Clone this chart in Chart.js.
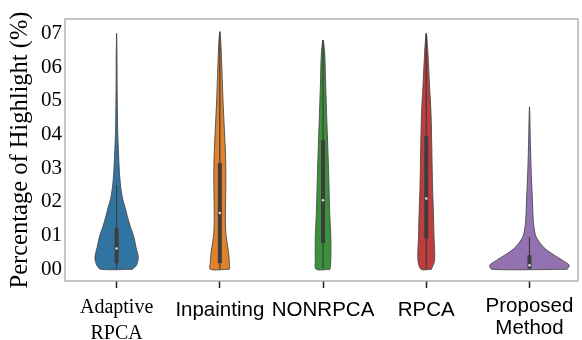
<!DOCTYPE html>
<html><head><meta charset="utf-8">
<script src="https://cdn.jsdelivr.net/npm/chart.js@4.4.1/dist/chart.umd.min.js"></script>
<style>html,body{margin:0;padding:0;background:#fff}canvas{display:block}</style>
</head><body><canvas id="c" width="582" height="340"></canvas>
<script>
// ---- data ----
const categories = [["Adaptive","RPCA"], "Inpainting", "NONRPCA", "RPCA", ["Proposed","Method"]];
const yTickValues = [0,1,2,3,4,5,6,7];
const yTickLabels = ["00","01","02","03","04","05","06","07"];
const colors = ["#3274a1","#e1812c","#3a923a","#c03d3e","#9372b2"];

// kernel density outlines: y levels and relative density (half-width)
const adaptiveLevels  = [0, 0.12, 0.36, 0.65, 1.0, 1.25, 1.55, 1.85, 2.1, 2.4, 2.8, 3.4, 4.0, 4.6, 5.6, 6.3, 7.0];
const adaptiveDensity = [0.40, 0.50, 0.545, 0.49, 0.425, 0.35, 0.275, 0.21, 0.15, 0.108, 0.075, 0.05, 0.03, 0.02, 0.012, 0.01, 0];
const inpaintLevels   = [0, 0.2, 0.5, 0.8, 1.1, 1.5, 2.0, 2.5, 3.0, 3.5, 4.0, 4.5, 5.0, 5.5, 6.0, 6.5, 7.05];
const inpaintDensity  = [0.24, 0.24, 0.22, 0.18, 0.15, 0.14, 0.145, 0.15, 0.15, 0.14, 0.12, 0.10, 0.08, 0.065, 0.05, 0.035, 0];
const nonrpcaLevels   = [0, 0.27, 0.96, 1.66, 2.44, 3.43, 4.42, 5.41, 6.4, 6.8];
const nonrpcaDensity  = [0.175, 0.195, 0.195, 0.168, 0.15, 0.125, 0.095, 0.068, 0.042, 0];
const rpcaLevels      = [0, 0.27, 0.96, 1.66, 2.44, 3.43, 4.42, 4.82, 5.41, 6.4, 7.0];
const rpcaDensity     = [0.13, 0.21, 0.195, 0.18, 0.158, 0.142, 0.125, 0.112, 0.083, 0.042, 0];
const proposedLevels  = [0, 0.12, 0.27, 0.47, 0.66, 0.96, 1.2, 1.45, 2.15, 2.84, 3.63, 4.82];
const proposedDensity = [0.95, 1.0, 0.825, 0.56, 0.35, 0.168, 0.12, 0.095, 0.07, 0.045, 0.025, 0];

// inner box statistics
const q1          = [0.18, 0.18, 0.78, 0.92, 0.02];
const medians     = [0.62, 1.67, 2.05, 2.10, 0.12];
const q3          = [1.22, 3.15, 3.83, 3.95, 0.42];
const whiskerLow  = [0.0, 0.0, 0.02, 0.0, 0.0];
const whiskerHigh = [2.5, 7.05, 6.8, 7.0, 0.96];

// ---- build datasets ----
const violinLevels = [adaptiveLevels, inpaintLevels, nonrpcaLevels, rpcaLevels, proposedLevels];
const violinDensity = [adaptiveDensity, inpaintDensity, nonrpcaDensity, rpcaDensity, proposedDensity];
const HALF = 0.385; // max half-width in category units

const datasets = [];
violinLevels.forEach((lv, i) => {
  const d = violinDensity[i];
  const right = lv.map((v, k) => ({x: i + d[k] * HALF, y: v}));
  const left = lv.slice().reverse().map((v, k) => ({x: i - d[lv.length - 1 - k] * HALF, y: v}));
  const pts = right.concat(left.slice(1));
  pts.push({x: right[0].x, y: right[0].y});
  datasets.push({
    data: pts, showLine: true, fill: 'shape', backgroundColor: colors[i],
    borderColor: '#4a4a4a', borderWidth: 0.9, pointRadius: 0, tension: 0.3, order: 3
  });
  datasets.push({
    data: [{x: i, y: whiskerLow[i]}, {x: i, y: whiskerHigh[i]}], showLine: true,
    borderColor: '#3d3d3d', borderWidth: 1.2, pointRadius: 0, order: 2
  });
  datasets.push({
    data: [{x: i, y: q1[i]}, {x: i, y: q3[i]}], showLine: true,
    borderColor: '#3d3d3d', borderWidth: 4, borderCapStyle: 'butt', pointRadius: 0, order: 1
  });
  datasets.push({
    data: [{x: i, y: medians[i]}], showLine: false,
    pointRadius: 1.2, pointBackgroundColor: '#e8e8e8', pointBorderWidth: 0, order: 0
  });
});

const framePlugin = {
  id: 'frame',
  afterDraw(chart) {
    const a = chart.chartArea, c = chart.ctx;
    c.save(); c.strokeStyle = '#a8a8a8'; c.lineWidth = 1.3;
    c.strokeRect(a.left, a.top, a.right - a.left, a.bottom - a.top);
    c.restore();
  }
};

new Chart(document.getElementById('c'), {
  type: 'scatter',
  data: { datasets },
  plugins: [framePlugin],
  options: {
    responsive: false, devicePixelRatio: 1, animation: false,
    layout: { padding: { left: 2, top: 19, right: 1, bottom: 0 } },
    plugins: { legend: { display: false }, tooltip: { enabled: false } },
    scales: {
      x: {
        type: 'linear', min: -0.5, max: 4.47,
        afterBuildTicks: s => { s.ticks = categories.map((c, i) => ({value: i})); },
        afterFit: s => { s.height = 59; },
        border: { display: false },
        grid: { drawOnChartArea: false, drawTicks: true, tickLength: 7, tickColor: '#222', tickWidth: 1.5 },
        ticks: {
          autoSkip: false, maxRotation: 0, padding: 7, color: '#000',
          callback: (v, i) => categories[i],
          font: ctx => {
            if (ctx.index === 0) return {family: 'Liberation Serif', size: 20, lineHeight: 1.3};
            if (ctx.index === 4) return {family: 'Liberation Sans', size: 20.5, lineHeight: 1.1};
            return {family: 'Liberation Sans', size: 20.5, lineHeight: 1.5};
          }
        }
      },
      y: {
        type: 'linear', min: -0.347, max: 7.425,
        afterBuildTicks: s => { s.ticks = yTickValues.map(v => ({value: v})); },
        afterFit: s => { s.width = 63; },
        border: { display: false },
        grid: { display: false, drawTicks: false },
        ticks: {
          padding: 3, color: '#000',
          callback: (v, i) => yTickLabels[i],
          font: {family: 'Liberation Serif', size: 21}
        },
        title: {
          display: true, text: 'Percentage of Highlight (%)', color: '#000',
          font: {family: 'Liberation Serif', size: 24.5}, padding: {top: 4, bottom: 0}
        }
      }
    }
  }
});
</script>
</body></html>
